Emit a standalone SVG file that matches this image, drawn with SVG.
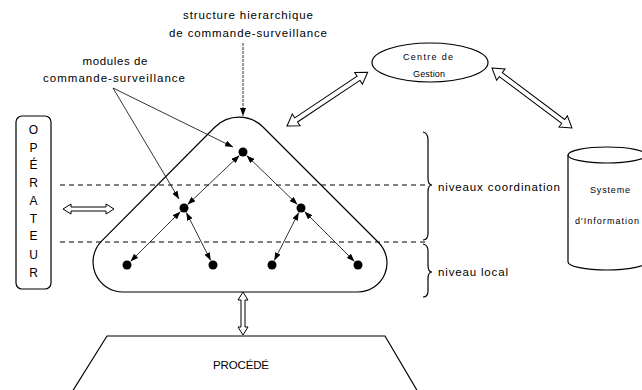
<svg xmlns="http://www.w3.org/2000/svg" width="642" height="390" viewBox="0 0 642 390">
<style>
text{font-family:"Liberation Sans",Arial,sans-serif;fill:#000}
.lbl{font-size:11.5px}
.sm{font-size:9px}
.op{font-size:12px;text-anchor:middle}
.shape{fill:none;stroke:#000;stroke-width:1.2}
.dash{stroke:#000;stroke-width:1;stroke-dasharray:5,4;fill:none}
.link{stroke:#000;stroke-width:0.8;fill:none;marker-start:url(#ah);marker-end:url(#ah)}
.ptr{stroke:#000;stroke-width:0.8;fill:none;marker-end:url(#ah)}
.dbl{fill:#fff;stroke:#000;stroke-width:1}
.node{fill:#000}
</style>
<defs>
<marker id="ah" viewBox="0 0 8 6" refX="8" refY="3" markerWidth="8" markerHeight="6" markerUnits="userSpaceOnUse" orient="auto-start-reverse">
<path d="M0,0 L8,3 L0,6 z" fill="#000"/>
</marker>
</defs>
<rect width="642" height="390" fill="#fff"/>

<g id="labels">
<text class="lbl" x="248" y="19" text-anchor="middle" textLength="130" lengthAdjust="spacing">structure hierarchique</text>
<text class="lbl" x="248" y="37" text-anchor="middle" textLength="158" lengthAdjust="spacing">de commande-surveillance</text>
<text class="lbl" x="115" y="65" text-anchor="middle" textLength="65" lengthAdjust="spacing">modules de</text>
<text class="lbl" x="114" y="82" text-anchor="middle" textLength="142" lengthAdjust="spacing">commande-surveillance</text>
<text class="lbl" x="438" y="191" textLength="122" lengthAdjust="spacing">niveaux coordination</text>
<text class="lbl" x="438" y="276" textLength="70" lengthAdjust="spacing">niveau local</text>
</g>

<g id="levels">
<line class="dash" x1="60" y1="185" x2="425" y2="185"/>
<line class="dash" x1="60" y1="242" x2="425" y2="242"/>
<path class="shape" stroke-width="1" d="M423,132 Q428,133 428,140 L428,178 Q428,185 432,185 Q428,185 428,192 L428,233 Q428,240 423,240"/>
<path class="shape" stroke-width="1" d="M423,244 Q428,245 428,251 L428,265 Q428,272 432,272 Q428,272 428,279 L428,291 Q428,297 423,297"/>
</g>

<g id="hierarchy">
<path class="shape" d="M215,127 A34,34 0 0 1 263,127 L378.5,242.5 A29,29 0 0 1 358,292 L123,292 A30,30 0 0 1 101.8,240.8 Z"/>
</g>

<g id="operateur">
<rect class="shape" x="16" y="116" width="35" height="173" rx="6"/>
<text class="op" x="33.5" y="134" font-size="10">O</text>
<text class="op" x="33.5" y="152">P</text>
<text class="op" x="33.5" y="169">É</text>
<text class="op" x="33.5" y="187">R</text>
<text class="op" x="33.5" y="205">A</text>
<text class="op" x="33.5" y="223">T</text>
<text class="op" x="33.5" y="240">E</text>
<text class="op" x="33.5" y="259">U</text>
<text class="op" x="33.5" y="277">R</text>
</g>

<g id="centre-gestion">
<ellipse class="shape" cx="430" cy="62.5" rx="58" ry="19.5"/>
<text class="sm" x="428" y="60" text-anchor="middle" textLength="50" lengthAdjust="spacing">Centre de</text>
<text class="sm" x="429" y="77" text-anchor="middle" textLength="32" lengthAdjust="spacing">Gestion</text>
</g>

<g id="systeme-information">
<path class="shape" d="M568,155 L568,262 A39,8 0 0 0 646,262 L646,155"/>
<ellipse class="shape" cx="607" cy="155" rx="39" ry="8"/>
<text class="sm" x="610" y="193" text-anchor="middle" textLength="40" lengthAdjust="spacing">Systeme</text>
<text class="sm" x="575" y="224" textLength="64" lengthAdjust="spacing">d'Information</text>
</g>

<g id="procede">
<polygon class="shape" points="107,336 385,336 418,392 72,392"/>
<text class="lbl" x="241" y="369" text-anchor="middle" textLength="56" lengthAdjust="spacing">PROCÉDÉ</text>
</g>

<g id="modules">
<circle class="node" cx="243" cy="152" r="4.5"/>
<circle class="node" cx="184" cy="208" r="4.5"/>
<circle class="node" cx="301" cy="208" r="4.5"/>
<circle class="node" cx="127" cy="265" r="4.5"/>
<circle class="node" cx="213" cy="265" r="4.5"/>
<circle class="node" cx="272" cy="265" r="4.5"/>
<circle class="node" cx="358" cy="265" r="4.5"/>
</g>

<g id="connectors">
<line class="link" x1="239.4" y1="155.4" x2="187.6" y2="204.6"/>
<line class="link" x1="246.6" y1="155.5" x2="297.4" y2="204.5"/>
<line class="link" x1="180.5" y1="211.5" x2="130.5" y2="261.5"/>
<line class="link" x1="186.3" y1="212.5" x2="210.7" y2="260.5"/>
<line class="link" x1="298.7" y1="212.5" x2="274.3" y2="260.5"/>
<line class="link" x1="304.5" y1="211.5" x2="354.5" y2="261.5"/>
<line class="ptr" x1="113" y1="88" x2="233" y2="147"/>
<line class="ptr" x1="113" y1="88" x2="179" y2="199"/>
<line class="ptr" x1="243" y1="43" x2="243" y2="116" stroke-dasharray="3,1"/>
<polygon class="dbl" transform="translate(63,209)" points="0,0 8,-5 8,-2 43,-2 43,-5 51,0 43,5 43,2 8,2 8,5"/>
<polygon class="dbl" transform="translate(243,292) rotate(90)" points="0,0 8,-5 8,-2 35,-2 35,-5 43,0 35,5 35,2 8,2 8,5"/>
<polygon class="dbl" transform="translate(287,126) rotate(-33.7)" points="0,0 11,-7 11,-2.5 86,-2.5 86,-7 97,0 86,7 86,2.5 11,2.5 11,7"/>
<polygon class="dbl" transform="translate(492,68) rotate(36.9)" points="0,0 11,-7 11,-2.5 89,-2.5 89,-7 100,0 89,7 89,2.5 11,2.5 11,7"/>
</g>
</svg>
